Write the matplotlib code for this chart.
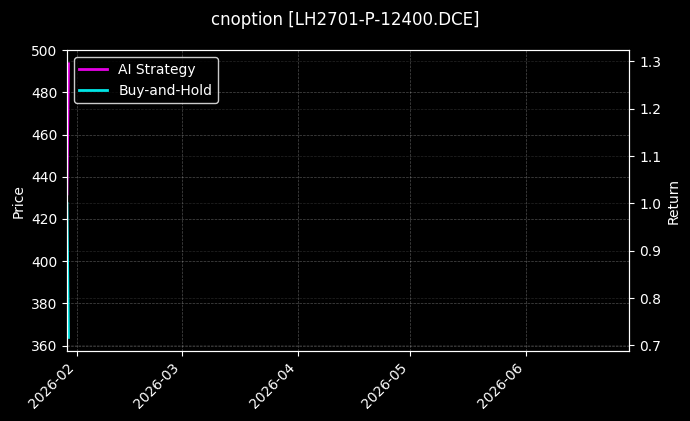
import pandas as pd
import matplotlib
matplotlib.use('Agg')
import matplotlib.pyplot as plt
import matplotlib.dates as mdates

plt.style.use('dark_background')

title = 'cnoption [LH2701-P-12400.DCE]'
dates = pd.to_datetime(['2026-01-29 09:00', '2026-01-29 19:00'])
ai_return = [1.02, 1.295]
bh_return = [1.0, 0.717]
price_lim = (357.4, 500)
x_end = pd.Timestamp('2026-06-28 12:00')

fig, ax1 = plt.subplots(figsize=(6.9, 4.21), dpi=100)
fig.subplots_adjust(left=0.097, right=0.912, top=0.881, bottom=0.166)

ax1.set_ylim(*price_lim)
ax1.set_ylabel('Price')
ax1.grid(True, linestyle='--', linewidth=0.5, alpha=0.3)

ax2 = ax1.twinx()
ax2.plot(dates, ai_return, color='magenta', linewidth=2, alpha=0.9, label='AI Strategy')
ax2.plot(dates, bh_return, color='cyan', linewidth=2, alpha=0.9, label='Buy-and-Hold')
ax2.set_ylabel('Return')
ax2.grid(True, linestyle='--', linewidth=0.5, alpha=0.15)

ax1.set_xlim(dates[0], x_end)
ax1.xaxis.set_major_locator(mdates.MonthLocator())
ax1.xaxis.set_major_formatter(mdates.DateFormatter('%Y-%m'))
plt.setp(ax1.get_xticklabels(), rotation=45, ha='right')

ax2.legend(loc='upper left', facecolor='black', edgecolor='white')
fig.suptitle(title, fontsize=12, y=0.975)

plt.savefig('out.png', dpi=100)
